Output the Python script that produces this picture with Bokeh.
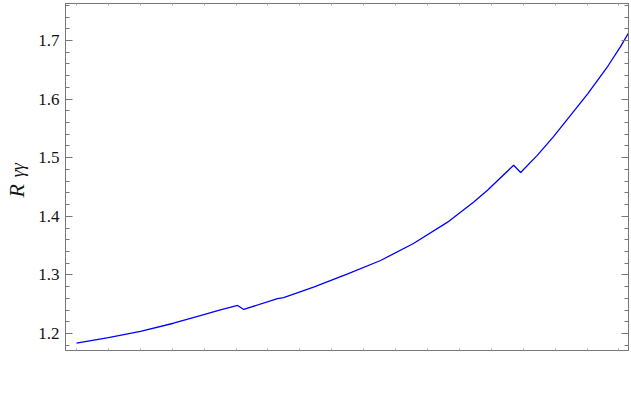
from bokeh.plotting import figure
from bokeh.models import (LinearAxis, SingleIntervalTicker, FixedTicker,
                          PrintfTickFormatter, CustomJSTickFormatter, Range1d)
from bokeh.embed import file_html
from bokeh.resources import INLINE

# data (x in arbitrary tick units, no x labels shown in reference)
x_vals = [0.0, 1.0, 2.006, 3.04, 3.88, 4.51, 5.05, 5.24, 6.30, 6.49, 7.43,
          8.50, 9.53, 10.56, 11.63, 12.45, 12.88, 13.70, 13.92, 14.44, 14.95,
          16.02, 16.65, 17.05, 17.30]
r_vals = [1.1834, 1.1930, 1.2035, 1.2175, 1.2303, 1.2404, 1.2478, 1.2410,
          1.2597, 1.2614, 1.2790, 1.3019, 1.3246, 1.3535, 1.3900, 1.4245,
          1.4445, 1.4870, 1.4747, 1.5040, 1.5360, 1.6090, 1.6560, 1.6895,
          1.7125]
y_label_main = "R"
y_label_sub = "γγ"
x_ticks = list(range(0, 18))

FRAME = "#777777"
NB = "\u00a0"

p = figure(width=631, height=400, output_backend="svg", toolbar_location=None,
           x_range=Range1d(-0.345, 17.30), y_range=Range1d(1.171, 1.7631),
           min_border_left=65, min_border_right=3, min_border_top=3,
           min_border_bottom=50, x_axis_location=None, y_axis_location=None)
p.outline_line_color = FRAME
p.grid.visible = False
p.background_fill_color = "white"
p.border_fill_color = "white"

yt = SingleIntervalTicker(interval=0.1, num_minor_ticks=5)
xt = FixedTicker(ticks=x_ticks)
blank = CustomJSTickFormatter(code="return ''")


def style_ticks(ax):
    ax.axis_line_color = FRAME
    ax.major_tick_line_color = FRAME
    ax.minor_tick_line_color = FRAME
    ax.major_tick_in = 7
    ax.major_tick_out = 0
    ax.minor_tick_in = 4
    ax.minor_tick_out = 0


# inner left axis: ticks, tick labels and the subscript
ax_in = LinearAxis(ticker=yt, formatter=PrintfTickFormatter(format="%.1f"))
style_ticks(ax_in)
ax_in.major_label_text_font = "Liberation Serif"
ax_in.major_label_text_font_size = "17px"
ax_in.major_label_text_color = "#111111"
ax_in.major_label_standoff = 6
ax_in.axis_label = NB * 3 + y_label_sub
ax_in.axis_label_text_font = "Liberation Serif"
ax_in.axis_label_text_font_style = "italic"
ax_in.axis_label_text_font_size = "18px"
ax_in.axis_label_text_color = "#111111"
ax_in.axis_label_standoff = 7

# outer left axis: only the main symbol, pulled inwards
ax_out = LinearAxis(ticker=yt, formatter=blank)
ax_out.axis_line_color = None
ax_out.major_tick_line_color = None
ax_out.minor_tick_line_color = None
ax_out.major_tick_in = 0
ax_out.major_tick_out = 0
ax_out.minor_tick_in = 0
ax_out.minor_tick_out = 0
ax_out.major_label_standoff = 0
ax_out.axis_label = y_label_main + NB * 5
ax_out.axis_label_text_font = "Liberation Serif"
ax_out.axis_label_text_font_style = "italic"
ax_out.axis_label_text_font_size = "22px"
ax_out.axis_label_text_color = "#111111"
ax_out.axis_label_standoff = -23

ax_r = LinearAxis(ticker=yt, formatter=blank)
style_ticks(ax_r)
ax_r.major_label_standoff = 0


def mk_x():
    ax = LinearAxis(ticker=xt, formatter=blank)
    ax.axis_line_color = FRAME
    ax.major_tick_line_color = "#aaaaaa"
    ax.minor_tick_line_color = None
    ax.major_tick_in = 2
    ax.major_tick_out = 0
    ax.major_label_standoff = 0
    return ax


p.add_layout(ax_in, "left")
p.add_layout(ax_out, "left")
p.add_layout(ax_r, "right")
p.add_layout(mk_x(), "below")
p.add_layout(mk_x(), "above")

p.line(x_vals, r_vals, line_color="#0000ff", line_width=1.3)

open("out.html", "w").write(file_html(p, INLINE))
